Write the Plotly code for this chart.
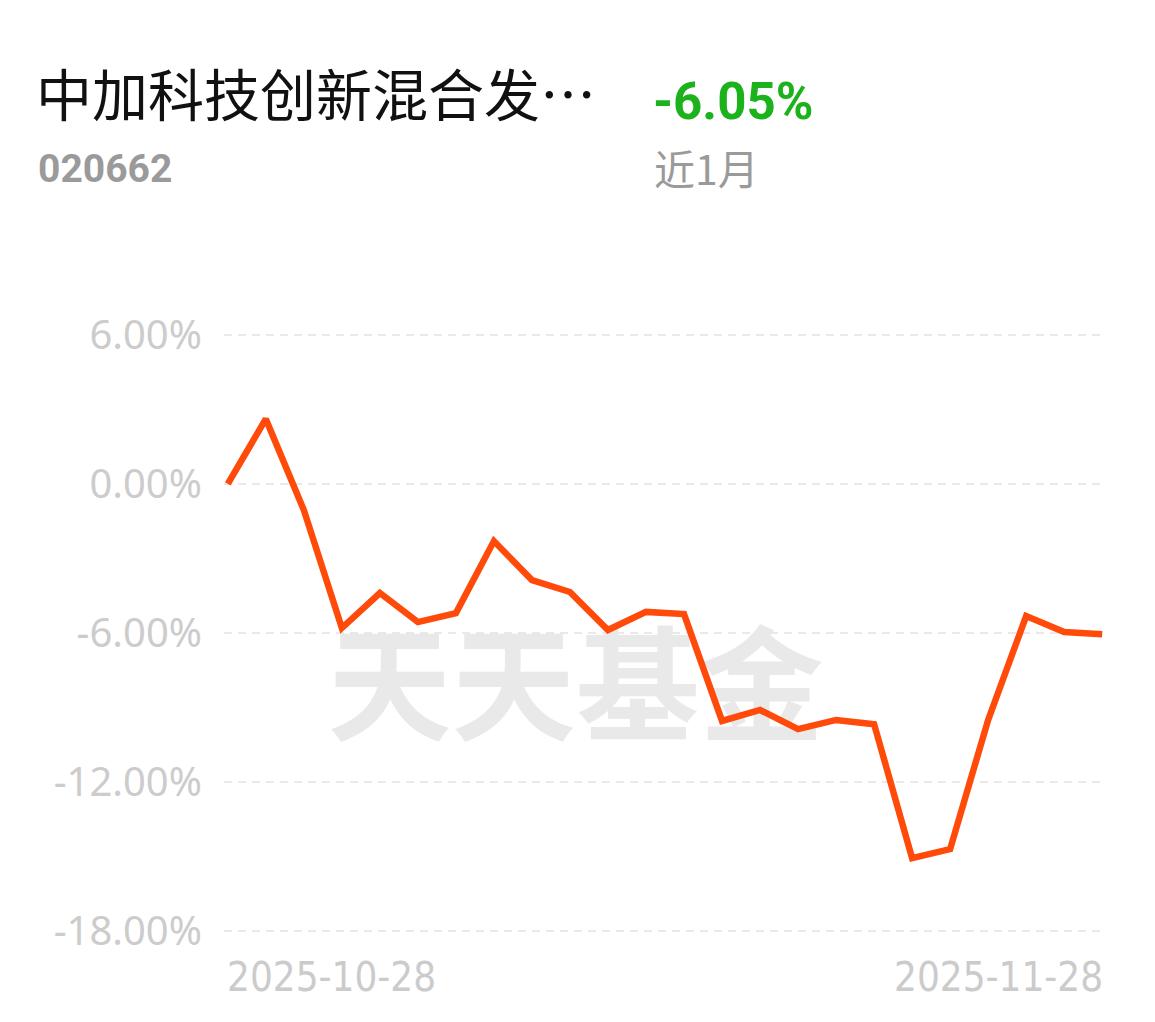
import plotly.graph_objects as go

# 近1月 累计收益率 (%)
dates = ["2025-10-28", "2025-10-29", "2025-10-30", "2025-10-31",
         "2025-11-03", "2025-11-04", "2025-11-05", "2025-11-06", "2025-11-07",
         "2025-11-10", "2025-11-11", "2025-11-12", "2025-11-13", "2025-11-14",
         "2025-11-17", "2025-11-18", "2025-11-19", "2025-11-20", "2025-11-21",
         "2025-11-24", "2025-11-25", "2025-11-26", "2025-11-27", "2025-11-28"]
returns = [0.00, 2.62, -1.05, -5.80, -4.39, -5.56, -5.20, -2.30, -3.87,
           -4.35, -5.88, -5.15, -5.24, -9.54, -9.10, -9.87, -9.50, -9.67,
           -15.06, -14.70, -9.50, -5.32, -5.96, -6.05]
ytick_vals = [6, 0, -6, -12, -18]
ytick_text = ["6.00%", "0.00%", "-6.00%", "-12.00%", "-18.00%"]

fund_name = "中加科技创新混合发…"
fund_code = "020662"
period_return = "-6.05%"
period_label = "近1月"

LABEL_GRAY = "#cbcbcb"
OFF = 8  # 页面 body 的默认外边距
W, H = 1155 - OFF, 1022 - OFF
L, R, T, B = 224 - OFF, 49, 325 - OFF, 81
xs = list(range(len(dates)))

fig = go.Figure()

# 水印 (画在折线下面)
fig.add_trace(go.Scatter(
    x=[9.15], y=[-8.7], mode="text", text=["天天基金"],
    textfont=dict(family="Noto Sans CJK SC", size=124, color="#e9e9e9", weight="bold"),
    hoverinfo="skip", showlegend=False, cliponaxis=False,
))

fig.add_trace(go.Scatter(
    x=xs, y=returns, mode="lines",
    line=dict(color="#ff4a0a", width=6.5),
    hovertext=dates, showlegend=False,
))

fig.update_layout(
    width=W, height=H,
    paper_bgcolor="white", plot_bgcolor="white",
    margin=dict(l=L, r=R, t=T, b=B, autoexpand=False),
    font=dict(family="Noto Sans, Noto Sans CJK SC", color=LABEL_GRAY),
    showlegend=False,
)

fig.update_xaxes(
    range=[-0.1, len(dates) - 0.9],
    showgrid=False, zeroline=False, showticklabels=False, showline=False,
)
fig.update_yaxes(
    range=[-18.4, 6.4],
    tickvals=ytick_vals, ticktext=ytick_text,
    tickfont=dict(size=40, color="#cccccc", family="Noto Sans"),
    ticklabelstandoff=21,
    showgrid=True, gridcolor="#e9e9e9", gridwidth=2, griddash="8px,6px",
    zeroline=False, showline=False,
)

# 起止日期
date_font = dict(size=40, color=LABEL_GRAY, family="DejaVu Sans Condensed")
fig.add_annotation(x=0, y=-18, xref="x", yref="y", text=dates[0],
                   xanchor="left", yanchor="middle", yshift=-46, xshift=-3,
                   showarrow=False, font=date_font)
fig.add_annotation(x=len(dates) - 1, y=-18, xref="x", yref="y", text=dates[-1],
                   xanchor="right", yanchor="middle", yshift=-46, xshift=3,
                   showarrow=False, font=date_font)

# 标题区 (屏幕像素位置换算到 paper 坐标)
pw, ph = W - L - R, H - T - B


def px(xs_, ys_):
    xp, yp = xs_ - OFF, ys_ - OFF
    return (xp - L) / pw, (H - B - yp) / ph


header = [
    (fund_name, 34, 92, dict(size=56, color="#111111", family="Noto Sans CJK SC")),
    (fund_code, 36, 169, dict(size=39, color="#9a9a9a", family="Roboto", weight="bold")),
    (period_return, 651, 102, dict(size=51, color="#1cb21c", family="Roboto", weight="bold")),
    (period_label, 652, 167, dict(size=41, color="#9a9a9a", family="Noto Sans CJK SC")),
]
for text, xp, yp, font in header:
    ax, ay = px(xp, yp)
    fig.add_annotation(x=ax, y=ay, xref="paper", yref="paper", text=text,
                       showarrow=False, xanchor="left", yanchor="middle", font=font)

fig.write_html("out.html")
